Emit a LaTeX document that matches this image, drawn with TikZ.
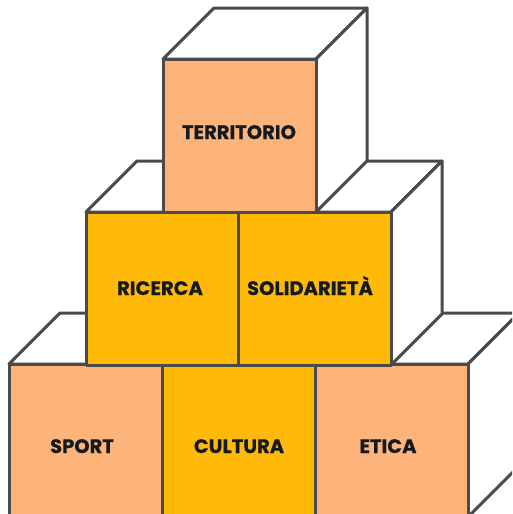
\documentclass[tikz,border=0pt]{standalone}
\usepackage{fontspec}
\setmainfont{Poppins}[BoldFont={* Bold},BoldFeatures={FakeBold=0.6}]
\definecolor{peach}{HTML}{FDB47A}
\definecolor{gold}{HTML}{FFBA08}
\definecolor{edge}{HTML}{4A4A4D}
\definecolor{ink}{HTML}{151A21}
\newcommand\drawcube[3]{%
  \begin{scope}[shift={(#1,#2)}]
    \filldraw[cubeline,fill=white] (0,0) -- (51,-51) -- (204,-51) -- (153,0) -- cycle;
    \filldraw[cubeline,fill=white] (153,0) -- (204,-51) -- (204,102) -- (153,153) -- cycle;
    \filldraw[cubeline,fill=#3] (0,0) rectangle (153,153);
  \end{scope}}
\begin{document}
\begin{tikzpicture}[x=1pt,y=-1pt,
  cubeline/.style={draw=edge,line width=3pt,line join=round},
  lbl/.style={font=\fontsize{19.5}{22}\selectfont\bfseries,text=ink,inner sep=0pt,anchor=base}]
\clip (0,0) rectangle (512,514);
\fill[white] (0,0) rectangle (512,514);
% bottom row
\drawcube{9}{364}{peach}
\drawcube{162}{364}{gold}
\drawcube{315}{364}{peach}
% middle row
\drawcube{86}{212}{gold}
\drawcube{238}{212}{gold}
% top
\drawcube{163}{59}{peach}
\node[lbl] (territorio) at (239,139) {TERRITORIO};
\node[lbl] (ricerca) at (160,295) {RICERCA};
\node[lbl] (solidarieta) at (310,295) {SOLIDARIETÀ};
\node[lbl] (sport) at (82,453) {SPORT};
\node[lbl] (cultura) at (239,453) {CULTURA};
\node[lbl] (etica) at (388,453) {ETICA};
\end{tikzpicture}
\end{document}
